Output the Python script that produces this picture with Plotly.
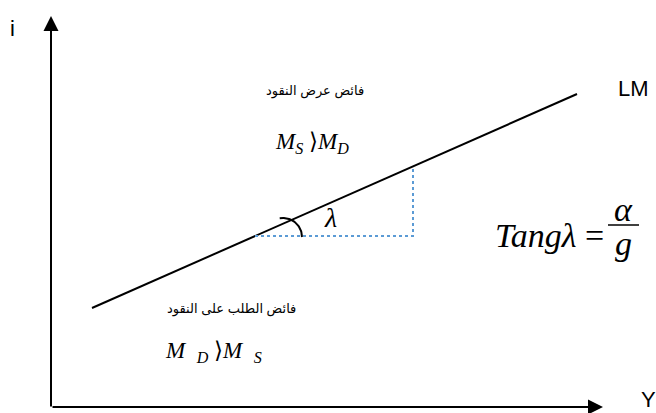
import numpy as np
import plotly.graph_objects as go

# ---- data (chart units: 1 unit along each axis) ----
axis_Y_end = 552          # length of the income (Y) axis
axis_i_end = 391          # length of the interest (i) axis
lm_Y = [41, 526]          # LM curve endpoints, Y
lm_i = [99, 313]          # LM curve endpoints, i
tri_Y = [204, 362, 362]   # slope triangle (dotted)
tri_i = [171, 171, 241]
arc_center = (232, 170)
arc_radius = 19
arc_deg = [0, 100]

labels_ar = ["فائض عرض النقود", "فائض الطلب على النقود"]

fig = go.Figure()

# LM line
fig.add_trace(go.Scatter(x=lm_Y, y=lm_i, mode="lines",
                         line=dict(color="black", width=2), hoverinfo="skip"))
# dotted triangle
fig.add_trace(go.Scatter(x=tri_Y, y=tri_i, mode="lines",
                         line=dict(color="#5b9bd5", width=2, dash="dot"), hoverinfo="skip"))
# angle arc
t = np.radians(np.linspace(arc_deg[0], arc_deg[1], 40))
fig.add_trace(go.Scatter(x=arc_center[0] + arc_radius * np.cos(t),
                         y=arc_center[1] + arc_radius * np.sin(t), mode="lines",
                         line=dict(color="black", width=2), hoverinfo="skip"))

# axes with arrowheads
for (x0, y0, x1, y1) in [(0, -1, 0, axis_i_end), (0, 0, axis_Y_end, 0)]:
    fig.add_annotation(x=x1, y=y1, ax=x0, ay=y0, xref="x", yref="y", axref="x", ayref="y",
                       showarrow=True, arrowhead=2, arrowsize=1.5, arrowwidth=2,
                       arrowcolor="black", text="")

sans = "Liberation Sans, Arial, DejaVu Sans"
serif = "Liberation Serif, Times New Roman, DejaVu Serif"

def txt(x, y, s, size, family, xanchor="center"):
    fig.add_annotation(x=x, y=y, text=s, showarrow=False, xref="x", yref="y",
                       xanchor=xanchor, yanchor="middle",
                       font=dict(size=size, family=family, color="black"))

txt(-39, 379, "i", 22, sans)
txt(597, 8, "Y", 22, sans)
txt(582, 319, "LM", 22, sans)
txt(264, 316, labels_ar[0], 13, sans)
txt(180, 98, labels_ar[1], 13, sans)
txt(261, 264, "<i>M</i><sub><i>S</i></sub> ⟩<i>M</i><sub><i>D</i></sub>", 23, serif)
txt(162, 55, "<i>M</i>  <sub><i>D</i></sub> ⟩<i>M</i>  <sub><i>S</i></sub>", 23, serif)
txt(279, 190, "<i>λ</i>", 28, serif)
txt(555, 172, "<i>Tangλ</i> =", 34, serif, xanchor="right")
txt(572, 198, "<i>α</i>", 34, serif)
txt(572, 164, "<i>g</i>", 34, serif)
fig.add_shape(type="line", x0=557, x1=588, y0=182, y1=182, xref="x", yref="y",
              line=dict(color="black", width=1.5))

fig.update_layout(width=656, height=413, margin=dict(l=0, r=0, t=0, b=0),
                  paper_bgcolor="white", plot_bgcolor="white", showlegend=False,
                  xaxis=dict(range=[-51, 605], visible=False, fixedrange=True),
                  yaxis=dict(range=[-6, 407], visible=False, fixedrange=True))
fig.write_html("out.html", config={"displayModeBar": False},
               post_script="document.body.style.margin='0';document.body.style.overflow='hidden';")
